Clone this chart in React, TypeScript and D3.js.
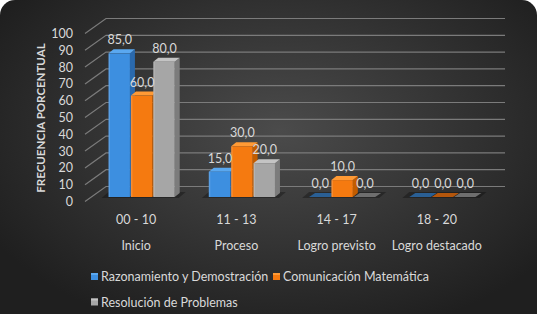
import React from 'react';
import * as d3 from 'd3';

const categories = ['00 - 10', '11 - 13', '14 - 17', '18 - 20'];
const levels = ['Inicio', 'Proceso', 'Logro previsto', 'Logro destacado'];
const seriesNames = ['Razonamiento y Demostración', 'Comunicación Matemática', 'Resolución de Problemas'];
const razonamiento = [85, 15, 0, 0];
const comunicacion = [60, 30, 10, 0];
const resolucion = [80, 20, 0, 0];
const yTicks = [0, 10, 20, 30, 40, 50, 60, 70, 80, 90, 100];

const seriesValues = [razonamiento, comunicacion, resolucion];
const palette = [
  {front: '#3d8fe0', top: '#5aa8f0', side: '#2a69ad', flat: '#2a5f94'},
  {front: '#f57a10', top: '#ff9a35', side: '#c25c00', flat: '#b4560c'},
  {front: '#a6a6a6', top: '#c4c4c4', side: '#7c7c7c', flat: '#6e6e6e'},
];

const W = 540;
const H = 314;
const txt = '#d9d9d9';
const font = 'Lato, "Open Sans", sans-serif';

// depth offset of the 3D bars
const dx = 5;
const dy = -4;

const App = () => {
  const x = d3.scaleBand<string>().domain(categories).range([92, 493]).paddingInner(0.33).paddingOuter(0.165);
  const xs = d3.scaleBand<string>().domain(seriesNames).range([0, x.bandwidth()]);
  const yBar = d3.scaleLinear().domain([0, 100]).range([197, 28]);
  const yFront = d3.scaleLinear().domain([0, 100]).range([201.5, 33.5]);
  const yBack = d3.scaleLinear().domain([0, 100]).range([186.5, 18.5]);
  const wallLeft = 85;
  const backLeft = 106;
  const backRight = 505;
  const fmt = (v: number) => d3.format('.1f')(v).replace('.', ',');

  return (
    <svg width={W} height={H} style={{position: 'absolute', left: 0, top: 0}} fontFamily={font}>
      <defs>
        <radialGradient id="bg" cx="52%" cy="38%" r="62%">
          <stop offset="0%" stopColor="#4b4b4b" />
          <stop offset="100%" stopColor="#1f1f1f" />
        </radialGradient>
      </defs>
      <rect x={0} y={0} width={W} height={H} fill="#ffffff" />
      <rect x={0} y={0} width={537} height={H + 30} rx={15} fill="url(#bg)" />

      {/* gridlines: side wall diagonals + back wall */}
      <g stroke="#7b7b7b" strokeWidth={1.2} fill="none">
        {yTicks.map(t => (
          <path key={t} d={`M${wallLeft},${yFront(t)}L${backLeft},${yBack(t)}H${backRight}`} />
        ))}
      </g>

      {/* y tick labels */}
      <g fill={txt} fontSize={12.5} textAnchor="end">
        {yTicks.map(t => (
          <text key={t} x={73} y={yFront(t) + 4.5}>{t}</text>
        ))}
      </g>
      <text transform="translate(45,118) rotate(-90)" textAnchor="middle" fill={txt} fontSize={11.5} fontWeight="bold">
        FRECUENCIA PORCENTUAL
      </text>

      {/* floor shadows */}
      {categories.map(c => {
        const x0 = x(c)!;
        const x1 = x0 + x.bandwidth();
        const b = yBar(0) + 1;
        return (
          <path key={c} d={`M${x0 - 7},${b}L${x1 + 3},${b}L${x1 + 10},${b - 6}L${x0},${b - 6}Z`} fill="rgba(0,0,0,0.3)" />
        );
      })}

      {/* bars */}
      {categories.map((c, ci) => (
        <g key={c}>
          {seriesNames.map((s, si) => {
            const v = seriesValues[si][ci];
            const col = palette[si];
            const x0 = x(c)! + xs(s)!;
            const w = xs.bandwidth() - 1;
            const yt = yBar(v);
            const yb = yBar(0);
            if (v === 0) {
              return (
                <path key={s} d={`M${x0},${yb}h${w}l${dx + 1},${dy}h${-w}Z`} fill={col.flat} />
              );
            }
            return (
              <g key={s}>
                <path d={`M${x0 + w},${yb}V${yt}l${dx},${dy}V${yb + dy}Z`} fill={col.side} />
                <path d={`M${x0},${yt}h${w}l${dx},${dy}h${-w}Z`} fill={col.top} />
                <rect x={x0} y={yt} width={w} height={yb - yt} fill={col.front} />
                <rect x={x0} y={yt} width={1.5} height={yb - yt} fill="rgba(255,255,255,0.15)" />
              </g>
            );
          })}
        </g>
      ))}

      {/* value labels */}
      <g fill={txt} fontSize={12.5} textAnchor="middle">
        {categories.map((c, ci) =>
          seriesNames.map((s, si) => {
            const v = seriesValues[si][ci];
            const cx = x(c)! + xs(s)! + xs.bandwidth() / 2;
            return (
              <text key={c + s} x={cx} y={yBar(v) - 13.5 + 4.5}>{fmt(v)}</text>
            );
          })
        )}
      </g>

      {/* category labels */}
      <g fill={txt} fontSize={12.5} textAnchor="middle">
        {categories.map((c, i) => (
          <g key={c}>
            <text x={x(c)! + x.bandwidth() / 2 - 6} y={223.5}>{c}</text>
            <text x={x(c)! + x.bandwidth() / 2 - 6} y={250}>{levels[i]}</text>
          </g>
        ))}
      </g>

      {/* legend */}
      <g fontSize={12.5} fill={txt}>
        {seriesNames.map((s, i) => {
          const lx = i === 1 ? 273 : 91;
          const ly = i === 2 ? 302 : 276.5;
          return (
            <g key={s}>
              <rect x={lx} y={ly - 3.5} width={7} height={7} fill={palette[i].front} />
              <rect x={lx} y={ly - 3.5} width={7} height={2} fill={palette[i].top} />
              <text x={lx + 10} y={ly + 4.5}>{s}</text>
            </g>
          );
        })}
      </g>
    </svg>
  );
};

export default App;
